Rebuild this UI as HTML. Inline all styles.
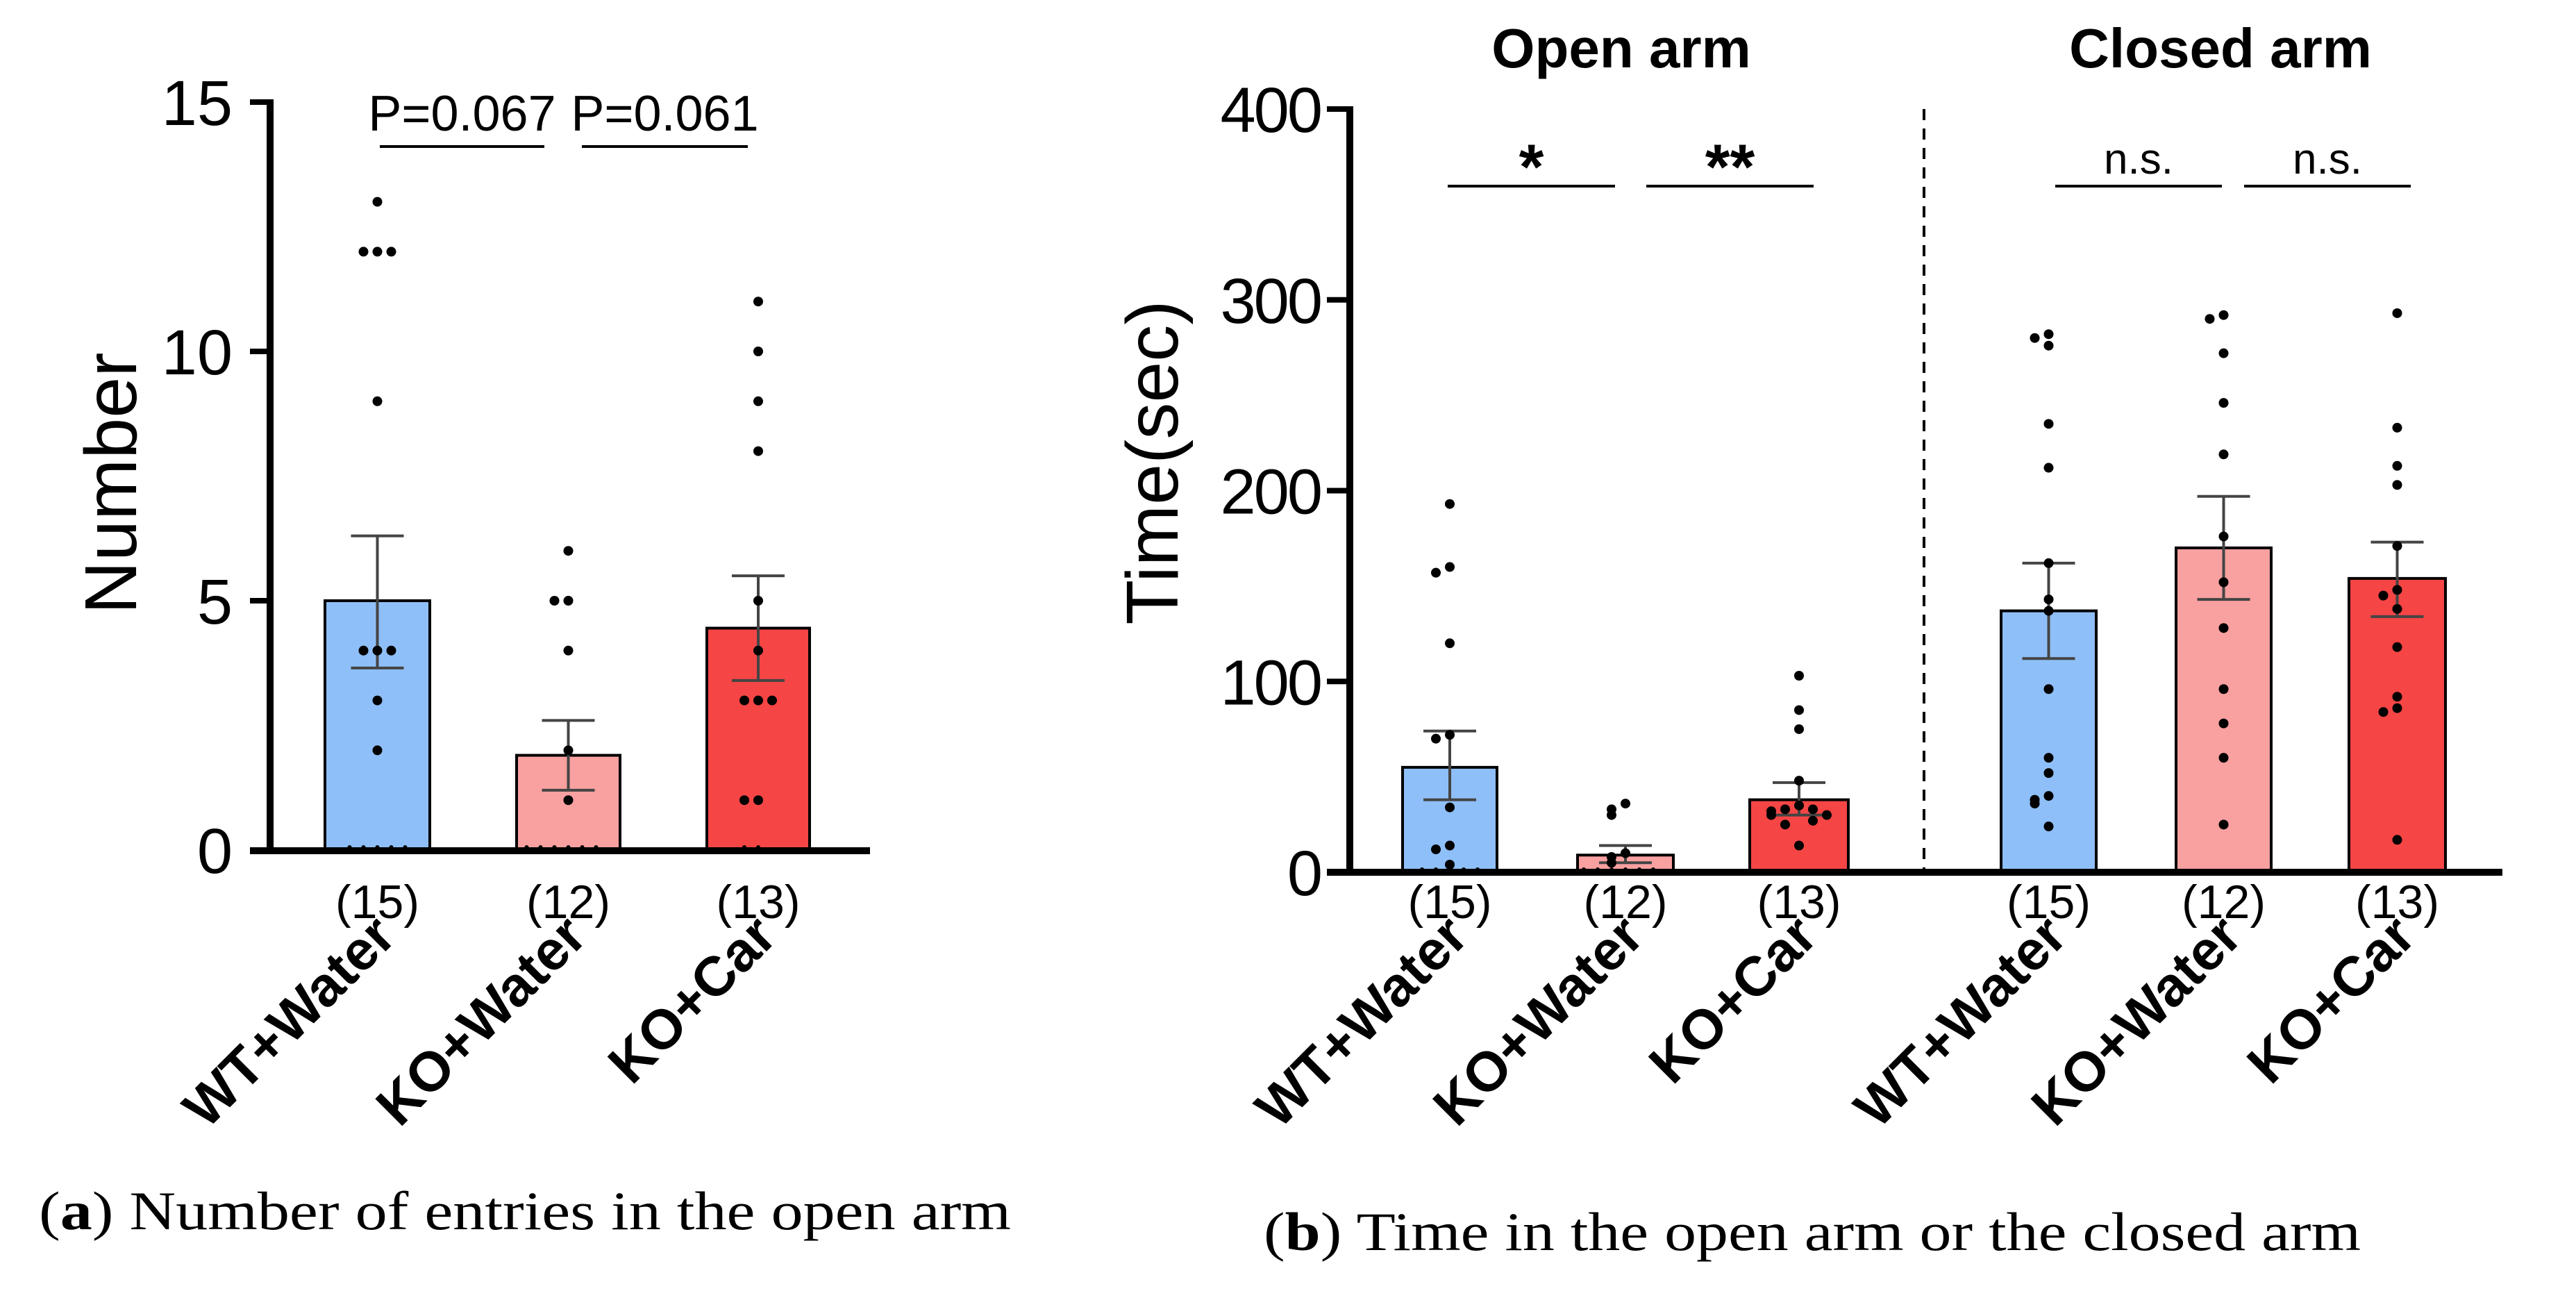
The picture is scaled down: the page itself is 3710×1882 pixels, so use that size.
<!DOCTYPE html>
<html><head><meta charset="utf-8"><style>
html,body{margin:0;padding:0;background:#fff;}
svg{display:block;}
</style></head><body>
<svg id="fig" xmlns="http://www.w3.org/2000/svg" width="3710" height="1882" viewBox="0 0 3710 1882">
<rect width="3710" height="1882" fill="#fff"/>
</svg>
<script>
// ---------- data ----------
const groups = ["WT+Water","KO+Water","KO+Car"];
const groupN = ["(15)","(12)","(13)"];
const colors = ["#8fbff8","#f9a0a0","#f54545"];
// panel a
const aMeans = [5.0, 1.9, 4.45];
const aSemHi = [6.3, 2.6, 5.5];
const aSemLo = [3.65, 1.2, 3.4];
const aPtsWT = [13,12,12,12,9,4,4,4,3,2,0,0,0,0,0];
const aPtsKO = [6,5,5,4,2,1,0,0,0,0,0,0];
const aPtsCar = [11,10,9,8,5,4,3,3,3,1,1,0,0];
const aTicks = [0,5,10,15];
const aSig = ["P=0.067","P=0.061"];
// panel b
const bOpenMeans = [55, 9, 38];
const bOpenHi = [74, 14, 47];
const bOpenLo = [38, 5, 30];
const bClosedMeans = [137, 170, 154];
const bClosedHi = [162, 197, 173];
const bClosedLo = [112, 143, 134];
const bOpenWT = [193,160,157,120,72,70,34,14,12,4,0,0,0,0,0];
const bOpenKO = [36,33,30,10,8,5,0,0,0,0,0,0];
const bOpenCar = [103,85,75,48,35,33,33,32,30,30,27,25,14];
const bClosedWT = [282,280,276,235,212,162,143,137,96,60,52,40,38,36,24];
const bClosedKO = [292,290,272,246,219,176,152,128,96,78,60,25];
const bClosedCar = [293,233,213,203,171,148,145,138,118,92,86,84,17];
const bTicks = [0,100,200,300,400];
const bSigOpen = ["*","**"];
const bSigClosed = ["n.s.","n.s."];

// ---------- helpers ----------
const NS="http://www.w3.org/2000/svg";
const svg=document.getElementById('fig');
function mk(tag,attrs,parent){const e=document.createElementNS(NS,tag);for(const k in attrs)e.setAttribute(k,attrs[k]);(parent||svg).appendChild(e);return e;}
const SANS='"Liberation Sans", Arial, sans-serif';
const SERIF='"Liberation Serif", "Times New Roman", serif';

function drawDots(g,vals,cx,yfun,name){
  const placed=[];
  vals.forEach(v=>{
    const y=yfun(v);
    const near=placed.filter(p=>Math.abs(p-y)<9).length;
    placed.push(y);
    const k=near===0?0:(near%2===1?-(Math.ceil(near/2)):Math.ceil(near/2));
    const c=mk('circle',{cx:cx+k*20,cy:y-(v===0?4:0),r:v===0?3:7,fill:'#000'},g);
    
    
  });
}
function drawBar(g,x0,x1,mean,hi,lo,yfun,color,name){
  const r=mk('rect',{x:x0,y:yfun(mean),width:x1-x0,height:yfun(0)-yfun(mean),fill:color,stroke:'#000','stroke-width':4},g);
  
  
  const cx=(x0+x1)/2;
  const e=mk('g',{stroke:'#444','stroke-width':4},g);
  
  
  mk('line',{x1:cx,x2:cx,y1:yfun(hi),y2:yfun(lo)},e);
  mk('line',{x1:cx-38,x2:cx+38,y1:yfun(hi),y2:yfun(hi)},e);
  mk('line',{x1:cx-38,x2:cx+38,y1:yfun(lo),y2:yfun(lo)},e);
}
function catLabels(g,cx,i){
  const n=mk('text',{x:cx,y:1322,'text-anchor':'middle','font-family':SANS,'font-size':68,fill:'#000'},g);
  n.textContent=groupN[i];
  
  
  const t=mk('text',{x:0,y:0,transform:`translate(${cx+30},${1352}) rotate(-45)`,'text-anchor':'end','font-family':SANS,'font-weight':'bold','font-size':80,fill:'#000'},g);
  t.textContent=groups[i];
  
  
}

// ---------- panel a ----------
const ga=mk('g',{});


const aY0=1224,aY1=147,aMax=15;
const ay=v=>aY0-(v/aMax)*(aY0-aY1);
const aBars=[[468,619],[744,893],[1018,1166]];
const aPts=[aPtsWT,aPtsKO,aPtsCar];
aBars.forEach((b,i)=>{
  drawBar(ga,b[0],b[1],aMeans[i],aSemHi[i],aSemLo[i],ay,colors[i],'bar-a-'+i);
  drawDots(ga,aPts[i],(b[0]+b[1])/2,ay,'data-point');
  catLabels(ga,(b[0]+b[1])/2,i);
});
mk('line',{x1:389,x2:389,y1:ay(15)-4,y2:aY0+5,stroke:'#000','stroke-width':10},ga);
mk('line',{x1:360,x2:1253,y1:aY0+1,y2:aY0+1,stroke:'#000','stroke-width':10},ga);
aTicks.forEach(t=>{
  mk('line',{x1:360,x2:389,y1:ay(t),y2:ay(t),stroke:'#000','stroke-width':8},ga);
  const l=mk('text',{x:335,y:ay(t)+33,'text-anchor':'end','font-family':SANS,'font-size':92,fill:'#000'},ga);
  l.textContent=t;
  
  
});
const ayt=mk('text',{x:0,y:0,transform:'translate(196,696) rotate(-90)','text-anchor':'middle','font-family':SANS,'font-size':106,fill:'#000'},ga);
ayt.textContent='Number';


[[547,784],[838,1077]].forEach((s,i)=>{
  mk('line',{x1:s[0],x2:s[1],y1:211,y2:211,stroke:'#000','stroke-width':4},ga);
  const t=mk('text',{x:(s[0]+s[1])/2,y:188,'text-anchor':'middle','font-family':SANS,'font-size':72,fill:'#000'},ga);
  t.textContent=aSig[i];
  
  
});
const ca=mk('text',{x:56,y:1770,'font-family':SERIF,'font-size':78,fill:'#000',textLength:1400,lengthAdjust:'spacingAndGlyphs'},ga);
ca.innerHTML='(<tspan font-weight="bold">a</tspan>) Number of entries in the open arm';



// ---------- panel b ----------
const gb=mk('g',{});


const bY0=1256,bY1=157,bMax=400;
const by=v=>bY0-(v/bMax)*(bY0-bY1);
const bBars=[[2020,2156],[2272,2410],[2520,2662],[2882,3019],[3134,3271],[3383,3522]];
const bMeans=bOpenMeans.concat(bClosedMeans);
const bHi=bOpenHi.concat(bClosedHi);
const bLo=bOpenLo.concat(bClosedLo);
const bPts=[bOpenWT,bOpenKO,bOpenCar,bClosedWT,bClosedKO,bClosedCar];
bBars.forEach((b,i)=>{
  drawBar(gb,b[0],b[1],bMeans[i],bHi[i],bLo[i],by,colors[i%3],'bar-b-'+i);
  drawDots(gb,bPts[i],(b[0]+b[1])/2,by,'data-point');
  catLabels(gb,(b[0]+b[1])/2,i%3);
});
mk('line',{x1:1944,x2:1944,y1:by(400)-4,y2:bY0+5,stroke:'#000','stroke-width':10},gb);
mk('line',{x1:1911,x2:3604,y1:bY0,y2:bY0,stroke:'#000','stroke-width':10},gb);
bTicks.forEach(t=>{
  mk('line',{x1:1911,x2:1944,y1:by(t),y2:by(t),stroke:'#000','stroke-width':8},gb);
  const l=mk('text',{x:1902,y:by(t)+33,'text-anchor':'end','font-family':SANS,'font-size':92,fill:'#000','letter-spacing':-3},gb);
  l.textContent=t;
  
  
});
const byt=mk('text',{x:0,y:0,transform:'translate(1696,666) rotate(-90)','text-anchor':'middle','font-family':SANS,'font-size':106,fill:'#000'},gb);
byt.textContent='Time(sec)';


mk('line',{x1:2771,x2:2771,y1:157,y2:1252,stroke:'#000','stroke-width':4,'stroke-dasharray':'16 12'},gb);
[['Open arm',2335],['Closed arm',3198]].forEach(h=>{
  const t=mk('text',{x:h[1],y:97,'text-anchor':'middle','font-family':SANS,'font-weight':'bold','font-size':80,fill:'#000'},gb);
  t.textContent=h[0];
  
  
});
const sigs=bSigOpen.concat(bSigClosed);
[[2085,2326],[2371,2612],[2960,3200],[3232,3472]].forEach((s,i)=>{
  mk('line',{x1:s[0],x2:s[1],y1:268,y2:268,stroke:'#000','stroke-width':4},gb);
  const star=sigs[i].indexOf('*')>=0;
  const t=mk('text',{x:(s[0]+s[1])/2,y:star?272:250,'text-anchor':'middle','font-family':SANS,'font-weight':star?'bold':'normal','font-size':star?92:62,fill:'#000'},gb);
  t.textContent=sigs[i];
  
  
});
const cb=mk('text',{x:1820,y:1800,'font-family':SERIF,'font-size':78,fill:'#000',textLength:1580,lengthAdjust:'spacingAndGlyphs'},gb);
cb.innerHTML='(<tspan font-weight="bold">b</tspan>) Time in the open arm or the closed arm';


</script>
</body></html>
